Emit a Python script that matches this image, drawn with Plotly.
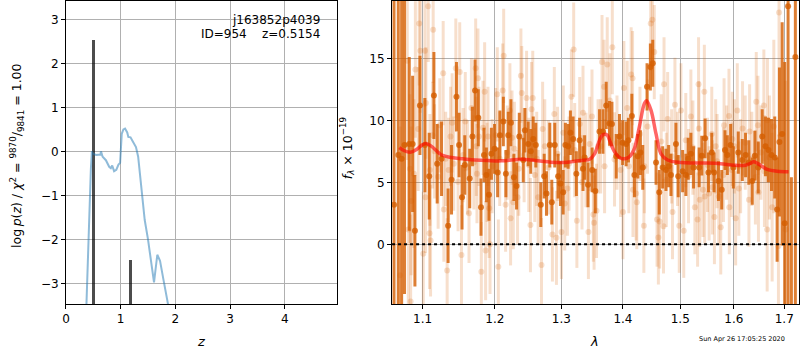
import math
import plotly.graph_objects as go

# ---------------- left panel: log p(z) ----------------
pz_z = [0.371, 0.400, 0.432, 0.455, 0.474, 0.49, 0.55, 0.63, 0.64, 0.67, 0.73, 0.79, 0.82, 0.845, 0.88,
        0.92, 0.96, 0.99, 1.02, 1.05, 1.08, 1.12, 1.14, 1.18, 1.23, 1.28, 1.32, 1.38, 1.44, 1.50,
        1.56, 1.61, 1.67, 1.72, 1.78, 1.87]
pz_logp = [-3.6, -2.4, -1.1, -0.4, 0.0, -0.05, -0.08, -0.07, 0.0, -0.12, -0.2, -0.35, -0.38, -0.32, -0.45,
           -0.42, -0.3, -0.26, 0.4, 0.5, 0.52, 0.43, 0.33, 0.32, 0.21, 0.1, -0.12, -0.88, -1.56, -2.0,
           -2.6, -2.98, -2.35, -2.49, -2.9, -3.5]
bar_z = [0.50, 1.18]
bar_top = [2.53, -2.47]
bar_floor = -10.0
zbest = 0.5154
obj_root = "j163852p4039"
obj_id = 954

# ---------------- right panel: spectrum ----------------
dark_wave = [1.0628, 1.0683, 1.0726, 1.0763, 1.0825, 1.0869, 1.0899, 1.0965, 1.1030, 1.1088, 1.1151, 1.1195,
             1.1254, 1.1343, 1.1390, 1.1458, 1.1494, 1.1535, 1.1573, 1.1642, 1.1680, 1.1717, 1.1763, 1.1801,
             1.1844, 1.1878, 1.1915, 1.1950, 1.1995, 1.2040, 1.2073, 1.2123, 1.2160, 1.2195, 1.2234, 1.2278,
             1.2317, 1.2358, 1.2417, 1.2442, 1.2491, 1.2530, 1.2567, 1.2606, 1.2682, 1.2734, 1.2769, 1.2820,
             1.2851, 1.2897, 1.2949, 1.2985, 1.3028, 1.3063, 1.3106, 1.3142, 1.3185, 1.3237, 1.3289, 1.3343,
             1.3369, 1.3423, 1.3490, 1.3542, 1.3611, 1.3667, 1.3721, 1.3775, 1.3816, 1.3887, 1.3942, 1.3995,
             1.4054, 1.4093, 1.4151, 1.4195, 1.4253, 1.4297, 1.4338, 1.4412, 1.4470, 1.4512, 1.4569, 1.4626,
             1.4686, 1.4744, 1.4792, 1.4833, 1.4922, 1.4963, 1.5043, 1.5102, 1.5144, 1.5193, 1.5242, 1.5345,
             1.5394, 1.5455, 1.5518, 1.5580, 1.5623, 1.5706, 1.5768, 1.5830, 1.5875, 1.5938, 1.5990, 1.6085,
             1.6163, 1.6227, 1.6290, 1.6358, 1.6409, 1.6476, 1.6555, 1.6620, 1.6680, 1.6741, 1.6807, 1.6855,
             1.6902, 1.6957, 1.7009, 1.7079, 1.7147, 1.7229]
dark_flux = [3.2, 7.2, 6.9, 8.0, 8.1, 8.1, 1.1, 11.2, 8.0, 5.5, 12.0, 6.5,
             6.9, 1.5, 5.2, 11.9, 8.0, 3.8, 6.4, 5.3, 8.7, 12.4, 10.2, 3.0,
             7.2, 5.6, 4.0, 7.3, 7.7, 5.8, 8.8, 9.9, 5.7, 8.8, 9.8, 5.4,
             4.7, 8.7, 6.8, 9.2, 8.1, 7.5, 8.5, 8.0, 3.2, 5.5, 4.1, 8.0,
             3.4, 8.0, 5.5, 4.9, 4.2, 8.0, 7.9, 9.0, 8.5, 5.7, 8.4, 6.1,
             7.0, 4.8, 6.0, 4.3, 9.1, 9.1, 11.2, 9.75, 9.7, 7.1, 8.7, 8.2,
             8.1, 8.4, 10.35, 5.6, 7.1, 7.4, 6.2, 12.7, 14.3, 14.6, 6.6, 4.2,
             6.2, 6.0, 6.3, 5.6, 8.1, 5.5, 5.9, 5.6, 6.9, 7.3, 6.2, 6.2,
             7.15, 8.55, 5.8, 7.4, 5.8, 5.1, 4.4, 7.6, 7.2, 8.0, 6.2, 7.4,
             6.8, 7.2, 6.6, 5.1, 7.15, 6.2, 8.7, 7.9, 7.6, 7.2, 7.0, 2.8,
             8.25, 8.9, 1.7, 19.2, -6.0, 15.1]
dark_err = [20, 16, 13, 12, 7, 5.5, 4.5, 4, 3.8, 3.5, 3.5, 3.2,
            3.0, 3.0, 2.8, 2.8, 2.6, 2.6, 2.4, 2.4, 2.4, 2.5, 2.3, 2.3,
            2.2, 2.2, 2.1, 2.1, 2.0, 2.0, 2.0, 2.0, 1.9, 1.9, 1.9, 1.9,
            1.9, 1.9, 1.8, 1.8, 1.8, 1.8, 1.8, 1.8, 1.8, 1.8, 1.8, 1.8,
            1.8, 1.8, 1.8, 1.8, 1.8, 1.8, 1.8, 1.8, 1.8, 1.8, 1.8, 1.8,
            1.8, 1.8, 1.8, 1.8, 1.8, 1.8, 1.9, 1.8, 1.8, 1.8, 1.8, 1.8,
            1.8, 1.8, 1.8, 1.8, 1.8, 1.8, 1.8, 1.9, 1.9, 1.9, 1.8, 1.8,
            1.7, 1.7, 1.7, 1.7, 1.7, 1.7, 1.7, 1.7, 1.7, 1.7, 1.7, 1.6,
            1.6, 1.6, 1.6, 1.6, 1.6, 1.6, 1.6, 1.6, 1.6, 1.7, 1.7, 1.7,
            1.7, 1.8, 1.8, 1.9, 2.0, 2.1, 2.2, 2.4, 2.6, 2.9, 3.3, 4.2,
            6.0, 9.0, 13.0, 25.0, 11.4, 22.0]

light_wave = [1.0705, 1.0799, 1.0812, 1.0834, 1.0843, 1.0850, 1.0886, 1.0905, 1.0942, 1.0955, 1.0970, 1.1009,
              1.1031, 1.1038, 1.1044, 1.1075, 1.1092, 1.1097, 1.1106, 1.1133, 1.1141, 1.1208, 1.1276, 1.1285,
              1.1330, 1.1350, 1.1376, 1.1398, 1.1449, 1.1480, 1.1503, 1.1527, 1.1580, 1.1632, 1.1666, 1.1726,
              1.1735, 1.1744, 1.1758, 1.1772, 1.1806, 1.1853, 1.1867, 1.1887, 1.1901, 1.1918, 1.1930, 1.2011,
              1.2035, 1.2050, 1.2113, 1.2128, 1.2156, 1.2219, 1.2229, 1.2269, 1.2285, 1.2332, 1.2382, 1.2395,
              1.2467, 1.2525, 1.2541, 1.2560, 1.2590, 1.2642, 1.2693, 1.2743, 1.2861, 1.2890, 1.2923, 1.3001,
              1.3053, 1.3095, 1.3158, 1.3194, 1.3245, 1.3327, 1.3343, 1.3430, 1.3450, 1.3488, 1.3510, 1.3522,
              1.3562, 1.3587, 1.3652, 1.3685, 1.3694, 1.3738, 1.3782, 1.3822, 1.3859, 1.4000, 1.4016, 1.4072,
              1.4139, 1.4163, 1.4170, 1.4224, 1.4236, 1.4357, 1.4366, 1.4476, 1.4505, 1.4538, 1.4586, 1.4610,
              1.4632, 1.4700, 1.4710, 1.4774, 1.4845, 1.4861, 1.4904, 1.4982, 1.5012, 1.5063, 1.5193, 1.5266,
              1.5316, 1.5334, 1.5340, 1.5357, 1.5416, 1.5441, 1.5448, 1.5530, 1.5592, 1.5630, 1.5653, 1.5712,
              1.5749, 1.5812, 1.5906, 1.5912, 1.5970, 1.6034, 1.6066, 1.6096, 1.6168, 1.6293, 1.6306, 1.6437,
              1.6480, 1.6470, 1.6588, 1.6654, 1.6660, 1.6754, 1.6788, 1.6882, 1.6894, 1.7029,
              1.1160, 1.1230, 1.1310, 1.1420, 1.1550, 1.1610, 1.1700, 1.1830, 1.1960, 1.2070, 1.2180, 1.2250,
              1.2350, 1.2430, 1.2500, 1.2620, 1.2710, 1.2800, 1.2940, 1.3030, 1.3120, 1.3210, 1.3290, 1.3390,
              1.3630, 1.3900, 1.3960, 1.4100, 1.4290, 1.4420, 1.4660, 1.4750, 1.4950, 1.5100, 1.5150, 1.5230,
              1.5500, 1.5580, 1.5680, 1.5800, 1.5860, 1.5960, 1.6010, 1.6130, 1.6220, 1.6350, 1.6420, 1.6530,
              1.6600, 1.6700]
light_flux = [-2.5, 14.8, 1.2, 6.1, -4.6, 3.5, 5.7, 14.1, 9.3, 17.8, 15.6, -0.75,
              15.6, 3.8, 11.4, 19.2, 0.9, 6.0, 0.3, 8.8, 17.3, 5.45, 13.8, 2.8,
              -2.1, 6.0, 8.7, 9.8, 14.2, 5.05, 13.9, -0.85, 9.9, 2.5, 11.0, 14.2,
              7.9, 5.7, 13.4, 8.7, -2.2, 12.3, -0.5, 5.8, 8.7, 2.9, 0.0, 8.8,
              12.1, -1.8, 12.4, 15.2, 3.2, 10.8, 2.1, 3.4, 7.7, 3.8, 13.6, 12.2,
              11.8, 1.55, 10.9, 11.8, 5.6, 3.8, -1.67, 7.9, 0.8, 10.5, 0.53, 1.0,
              3.3, 4.5, 11.9, 15.7, 1.9, 5.0, 10.6, 1.0, 8.1, 10.3, 2.4, 1.75,
              2.7, 7.9, 14.7, 12.7, 6.3, 14.5, 11.6, 15.9, 6.85, 2.6, 12.6, 11.0,
              13.7, 13.4, 4.4, 4.1, 3.4, 1.5, 6.3, 17.8, 18.1, 15.5, 2.0, 0.56,
              1.85, 1.45, 12.9, 10.1, 7.1, 2.6, 11.25, 1.5, 10.8, 1.1, 10.3, 3.0,
              2.0, 12.9, 9.35, 3.6, 4.4, 12.3, 3.85, 4.1, 4.6, 2.2, 7.9, 3.85,
              1.37, 9.6, 10.35, 3.0, 8.5, 2.1, 10.8, 4.5, 9.35, 3.6, 9.1, 11.5,
              4.2, 9.6, 11.2, 1.2, 10.0, 3.0, 9.5, -0.14, 18.7, 1.2,
              7.5, 9.6, 6.9, 6.5, 7.2, 6.2, 6.6, 9.4, 6.3, 6.9, 7.4, 8.6,
              6.1, 7.2, 6.4, 6.9, 9.3, 6.2, 7.3, 9.0, 6.5, 7.6, 9.7, 6.8,
              7.9, 8.2, 6.0, 6.3, 8.9, 9.5, 8.3, 5.2, 6.9, 8.4, 5.5, 7.8,
              6.4, 8.9, 6.7, 5.6, 7.4, 6.0, 7.9, 6.3, 8.2, 6.9, 5.4, 7.4,
              5.9, 7.0]
light_err = [12, 8, 7, 6, 7, 6, 6, 5.5, 5, 5, 5, 5,
             4.5, 4.5, 4.5, 4.5, 4.5, 4.5, 4.5, 4.3, 4.3, 4.2, 4.2, 4.2,
             4.2, 4.2, 4.0, 4.0, 4.0, 4.0, 4.0, 4.0, 4.0, 4.0, 4.0, 4.0,
             4.0, 4.0, 4.0, 4.0, 4.0, 4.0, 4.0, 4.0, 4.0, 4.0, 4.0, 3.8,
             3.8, 3.8, 3.8, 3.8, 3.8, 3.8, 3.8, 3.8, 3.8, 3.8, 3.8, 3.8,
             3.8, 3.8, 3.8, 3.8, 3.8, 3.8, 3.8, 3.8, 3.8, 3.8, 3.8, 3.8,
             3.8, 3.8, 3.8, 3.8, 3.8, 3.8, 3.8, 3.8, 3.8, 3.8, 3.8, 3.8,
             3.8, 3.8, 3.8, 3.8, 3.8, 3.8, 3.8, 3.8, 3.8, 3.8, 3.8, 3.8,
             3.8, 3.8, 3.8, 3.8, 3.8, 3.8, 3.8, 3.8, 3.8, 3.8, 3.8, 3.8,
             3.8, 3.8, 3.8, 3.8, 3.8, 3.8, 3.8, 3.8, 3.8, 3.8, 3.8, 3.8,
             3.8, 3.8, 3.8, 3.8, 3.8, 3.8, 3.8, 3.8, 3.8, 3.8, 3.8, 3.8,
             3.8, 3.8, 3.8, 3.8, 3.8, 3.8, 3.8, 3.8, 3.8, 3.8, 3.8, 4.0,
             4.0, 4.0, 4.5, 5, 5, 6, 7, 9, 10, 12,
             3.8, 3.8, 3.8, 3.8, 3.8, 3.8, 3.8, 3.8, 3.8, 3.8, 3.8, 3.8,
             3.8, 3.8, 3.8, 3.8, 3.8, 3.8, 3.8, 3.8, 3.8, 3.8, 3.8, 3.8,
             3.8, 3.8, 3.8, 3.8, 3.8, 3.8, 3.8, 3.8, 3.8, 3.8, 3.8, 3.8,
             3.8, 3.8, 3.8, 3.8, 3.8, 3.8, 3.8, 3.8, 3.8, 3.8, 3.8, 3.8,
             4.5, 5.0]

model_wave = [1.0696, 1.0760, 1.0838, 1.0920, 1.0990, 1.1047, 1.1120, 1.1258, 1.1394, 1.1550, 1.1717, 1.1900,
              1.2098, 1.2392, 1.2541, 1.2700, 1.2897, 1.3050, 1.3210, 1.3350, 1.3450, 1.3530, 1.3611, 1.3660,
              1.3700, 1.3740, 1.3775, 1.3859, 1.3970, 1.4093, 1.4184, 1.4280, 1.4366, 1.4405, 1.4482, 1.4569,
              1.4656, 1.4774, 1.5012, 1.5250, 1.5500, 1.5749, 1.6000, 1.6227, 1.6330, 1.6386, 1.6452, 1.6550,
              1.6654, 1.6855, 1.7088]
model_flux = [7.8, 7.55, 7.42, 7.65, 8.0, 8.14, 7.9, 7.2, 7.0, 6.9, 6.8, 6.75,
              6.73, 6.86, 6.8, 6.7, 6.6, 6.6, 6.7, 6.78, 6.86, 7.3, 8.4, 8.8,
              8.87, 8.8, 8.4, 7.47, 6.93, 7.0, 7.6, 9.5, 11.35, 11.58, 10.8, 8.9,
              7.3, 6.8, 6.6, 6.56, 6.55, 6.5, 6.38, 6.38, 6.55, 6.65, 6.55, 6.3,
              6.05, 5.9, 5.86]

wave_ticks = [1.1, 1.2, 1.3, 1.4, 1.5, 1.6, 1.7]
flux_ticks = [0, 5, 10, 15]
z_ticks = [0, 1, 2, 3, 4]
logp_ticks = [-3, -2, -1, 0, 1, 2, 3]
timestamp = "Sun Apr 26 17:05:25 2020"

# ---------------- figure ----------------
W, H = 800, 350
FONT = "DejaVu Sans"
G141 = (213, 94, 0)
fig = go.Figure()

fig.add_trace(go.Scatter(x=pz_z, y=pz_logp, mode="lines",
                         line=dict(color="rgba(31,119,180,0.5)", width=2),
                         xaxis="x", yaxis="y", showlegend=False, hoverinfo="skip"))
fig.add_trace(go.Bar(x=bar_z, y=[t - bar_floor for t in bar_top], base=bar_floor, width=0.05,
                     marker=dict(color="rgba(0,0,0,0.7)", line=dict(width=0)),
                     xaxis="x", yaxis="y", showlegend=False, hoverinfo="skip"))

light_rgba = "rgba(%d,%d,%d,0.2)" % G141
dark_rgba = "rgba(%d,%d,%d,0.8)" % G141
fig.add_trace(go.Scatter(x=light_wave, y=light_flux, mode="markers",
                         marker=dict(color=light_rgba, size=6, line=dict(width=0)),
                         error_y=dict(type="data", array=light_err, visible=True,
                                      color=light_rgba, thickness=3, width=0),
                         xaxis="x2", yaxis="y2", showlegend=False, hoverinfo="skip"))
fig.add_trace(go.Scatter(x=dark_wave, y=dark_flux, mode="markers",
                         marker=dict(color=dark_rgba, size=6, line=dict(width=0)),
                         error_y=dict(type="data", array=dark_err, visible=True,
                                      color=dark_rgba, thickness=3, width=0),
                         xaxis="x2", yaxis="y2", showlegend=False, hoverinfo="skip"))
fig.add_trace(go.Scatter(x=model_wave, y=model_flux, mode="lines", line_shape="spline",
                         line=dict(color="rgba(255,0,0,0.6)", width=3.5),
                         xaxis="x2", yaxis="y2", showlegend=False, hoverinfo="skip"))

axis_common = dict(showline=True, mirror=True, linecolor="black", linewidth=1,
                   ticks="outside", ticklen=4, tickwidth=1, tickcolor="black",
                   showgrid=True, gridcolor="#b0b0b0", gridwidth=1, zeroline=False,
                   tickfont=dict(family=FONT, size=12, color="black"), tickmode="array")

yb = 1 - 304 / H
yt = 1 - 1 / H
fig.update_layout(
    width=W, height=H, margin=dict(l=0, r=0, t=0, b=0),
    paper_bgcolor="white", plot_bgcolor="white", bargap=0,
    xaxis=dict(domain=[62.3 / W, 334.3 / W], range=[0, 4.95], tickvals=z_ticks,
               ticktext=[str(v) for v in z_ticks], anchor="y", **axis_common),
    yaxis=dict(domain=[yb, yt], range=[-3.47, 3.42], tickvals=logp_ticks,
               ticktext=[("\u2212%d" % -v) if v < 0 else str(v) for v in logp_ticks],
               anchor="x", **axis_common),
    xaxis2=dict(domain=[390 / W, 799.3 / W], type="log",
                range=[math.log10(1.0603), math.log10(1.7311)], tickvals=wave_ticks,
                ticktext=["%.1f" % v for v in wave_ticks], anchor="y2", **axis_common),
    yaxis2=dict(domain=[yb, yt], range=[-4.81, 19.62], tickvals=flux_ticks,
                ticktext=[str(v) for v in flux_ticks], anchor="x2", **axis_common),
)

fig.add_shape(type="line", xref="x2 domain", x0=0, x1=1, yref="y2", y0=0, y1=0,
              line=dict(color="black", width=2, dash="dot"), layer="above")

def px(x):
    return x / W

def py(y):
    return 1 - y / H

anns = [
    dict(text=obj_root, x=px(320), y=py(19.5), xanchor="right", yanchor="middle", size=12, angle=0),
    dict(text="ID=%d\u00a0\u00a0\u00a0\u00a0z=%.4f" % (obj_id, zbest), x=px(320), y=py(34),
         xanchor="right", yanchor="middle", size=12, angle=0),
    dict(text="<i>z</i>", x=px(198), y=py(341), xanchor="center", yanchor="middle", size=13, angle=0),
    dict(text="<i>λ</i>", x=px(593), y=py(341), xanchor="center", yanchor="middle", size=13, angle=0),
    dict(text="log\u2009<i>p</i>(<i>z</i>) / <i>χ</i><sup>2</sup> = <sup>9870</sup>/<sub>9841</sub> = 1.00",
         x=px(13), y=py(156), xanchor="center", yanchor="middle", size=12.5, angle=-90),
    dict(text="<i>f</i><sub><i>λ</i></sub> × 10<sup>−19</sup>", x=px(345), y=py(148),
         xanchor="center", yanchor="middle", size=12.5, angle=-90),
    dict(text=timestamp, x=px(742), y=py(339), xanchor="center", yanchor="middle", size=6.5, angle=0),
]
for a in anns:
    fig.add_annotation(text=a["text"], x=a["x"], y=a["y"], xref="paper", yref="paper",
                       xanchor=a["xanchor"], yanchor=a["yanchor"], textangle=a["angle"],
                       showarrow=False, font=dict(family=FONT, size=a["size"], color="black"))

fig.write_html("out.html", config={"displayModeBar": False},
               post_script="document.body.style.margin='0px';document.body.style.overflow='hidden';")
